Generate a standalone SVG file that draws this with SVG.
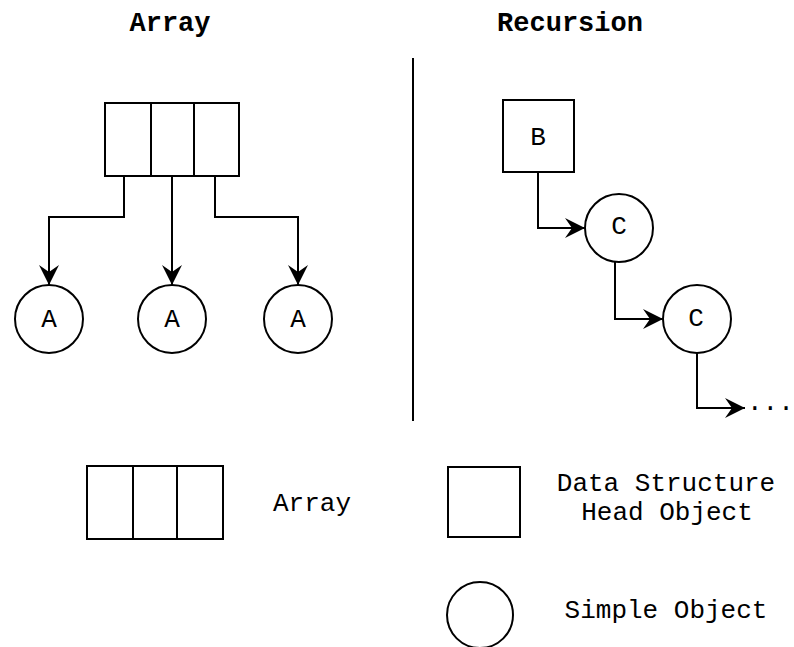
<svg xmlns="http://www.w3.org/2000/svg" width="794" height="647" viewBox="0 0 794 647">
  <style>
    .shape { fill: #ffffff; stroke: #000000; stroke-width: 2; }
    .edge { fill: none; stroke: #000000; stroke-width: 2; marker-end: url(#arrow); }
    .label { font-family: "Courier New", "Liberation Mono", monospace; font-size: 26px; fill: #000000; text-anchor: middle; }
    .title { font-family: "Courier New", "Liberation Mono", monospace; font-size: 27px; font-weight: bold; fill: #000000; text-anchor: middle; }
  </style>
  <defs>
    <marker id="arrow" viewBox="0 0 20 20" refX="20" refY="10" markerWidth="20" markerHeight="20" markerUnits="userSpaceOnUse" orient="auto">
      <path d="M0,0 L20,10 L0,20 L7,10 Z" fill="#000000"/>
    </marker>
  </defs>

  <rect width="794" height="647" fill="#ffffff"/>

  <!-- section titles -->
  <text class="title" x="170" y="31">Array</text>
  <text class="title" x="570" y="31">Recursion</text>

  <!-- divider between the two sections -->
  <line x1="413" y1="58" x2="413" y2="421" stroke="#000000" stroke-width="2"/>

  <!-- array example -->
  <g id="array">
    <rect class="shape" x="105" y="103" width="134" height="73"/>
    <line x1="151" y1="103" x2="151" y2="176" stroke="#000000" stroke-width="2"/>
    <line x1="194" y1="103" x2="194" y2="176" stroke="#000000" stroke-width="2"/>
  </g>
  <g id="a1">
    <circle class="shape" cx="49" cy="319" r="34"/>
    <text class="label" x="49" y="327">A</text>
  </g>
  <g id="a2">
    <circle class="shape" cx="172" cy="319" r="34"/>
    <text class="label" x="172" y="327">A</text>
  </g>
  <g id="a3">
    <circle class="shape" cx="298" cy="319" r="34"/>
    <text class="label" x="298" y="327">A</text>
  </g>

  <!-- recursion example -->
  <g id="b">
    <rect class="shape" x="503" y="100" width="71" height="72"/>
    <text class="label" x="538" y="145">B</text>
  </g>
  <g id="c1">
    <circle class="shape" cx="619" cy="228" r="34"/>
    <text class="label" x="619" y="234">C</text>
  </g>
  <g id="c2">
    <circle class="shape" cx="697" cy="319" r="34"/>
    <text class="label" x="696" y="326">C</text>
  </g>
  <g id="more">
    <text class="label" x="747" y="410" style="text-anchor:start">...</text>
  </g>

  <!-- connectors -->
  <g id="connectors">
    <path class="edge" d="M124,176 V217 H49 V285"/>
    <path class="edge" d="M172,176 V285"/>
    <path class="edge" d="M215,176 V217 H298 V285"/>
    <path class="edge" d="M538,172 V228 H585"/>
    <path class="edge" d="M615,262 V319 H663"/>
    <path class="edge" d="M697,353 V408 H745"/>
  </g>

  <!-- legend -->
  <g id="legend-array">
    <rect class="shape" x="87" y="466" width="136" height="73"/>
    <line x1="133" y1="466" x2="133" y2="539" stroke="#000000" stroke-width="2"/>
    <line x1="177" y1="466" x2="177" y2="539" stroke="#000000" stroke-width="2"/>
    <text class="label" x="312" y="511">Array</text>
  </g>
  <g id="legend-head">
    <rect class="shape" x="448" y="467" width="72" height="70"/>
    <text class="label" x="666" y="491">Data Structure</text>
    <text class="label" x="667" y="520">Head Object</text>
  </g>
  <g id="legend-simple">
    <circle class="shape" cx="480" cy="615" r="33"/>
    <text class="label" x="666" y="618">Simple Object</text>
  </g>
</svg>
